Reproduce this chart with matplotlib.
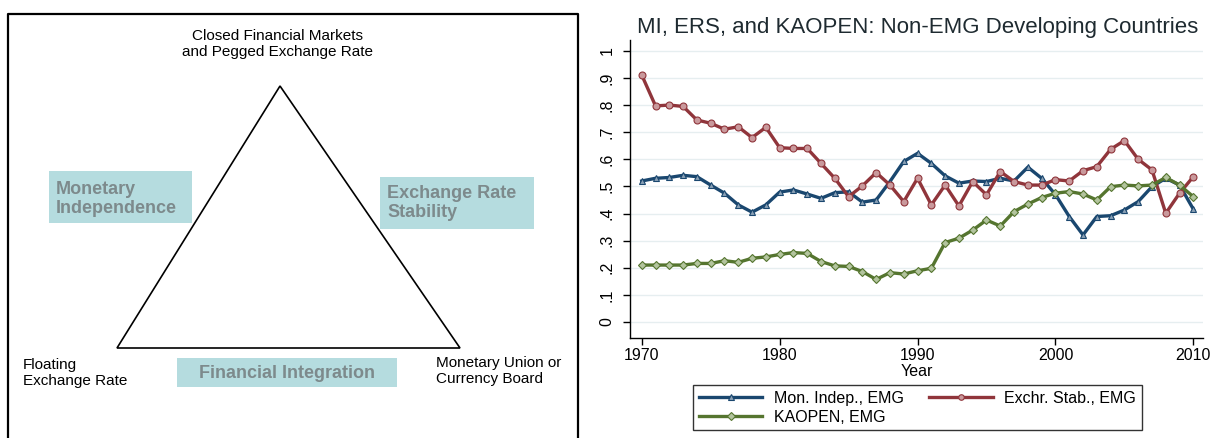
import numpy as np
import matplotlib
matplotlib.use("Agg")
import matplotlib.pyplot as plt
from matplotlib.patches import Rectangle, Polygon

plt.rcParams["font.family"] = ["Liberation Sans", "DejaVu Sans"]

# data
years = list(range(1970, 2011))
mon_indep = [0.52, 0.53, 0.533, 0.541, 0.536, 0.505, 0.475, 0.432, 0.405, 0.432,
             0.479, 0.487, 0.472, 0.456, 0.477, 0.48, 0.442, 0.45, 0.518, 0.592,
             0.622, 0.585, 0.539, 0.512, 0.52, 0.518, 0.53, 0.52, 0.571, 0.53,
             0.47, 0.389, 0.321, 0.389, 0.392, 0.413, 0.444, 0.499, 0.53, 0.505,
             0.416]
exch_stab = [0.911, 0.797, 0.80, 0.795, 0.745, 0.733, 0.711, 0.72, 0.68, 0.718,
             0.643, 0.64, 0.64, 0.585, 0.53, 0.462, 0.502, 0.551, 0.505, 0.444,
             0.53, 0.432, 0.505, 0.428, 0.518, 0.469, 0.555, 0.518, 0.505, 0.505,
             0.525, 0.52, 0.558, 0.573, 0.637, 0.669, 0.60, 0.561, 0.401, 0.475,
             0.536]
kaopen = [0.21, 0.21, 0.21, 0.21, 0.216, 0.216, 0.226, 0.22, 0.235, 0.24,
          0.249, 0.256, 0.253, 0.223, 0.207, 0.205, 0.186, 0.157, 0.182, 0.177,
          0.189, 0.198, 0.293, 0.309, 0.339, 0.376, 0.354, 0.407, 0.435, 0.459,
          0.475, 0.481, 0.472, 0.45, 0.499, 0.505, 0.502, 0.505, 0.533, 0.505,
          0.462]

yticks = np.arange(0, 1.01, 0.1)
ytick_labels = ["0", ".1", ".2", ".3", ".4", ".5", ".6", ".7", ".8", ".9", "1"]
xticks = [1970, 1980, 1990, 2000, 2010]

W, H = 1212, 438
fig = plt.figure(figsize=(W / 100, H / 100), dpi=100)

# ---- left panel: the trilemma triangle, drawn in pixel coordinates ----
axl = fig.add_axes([0, 0, 1, 1])
axl.set_xlim(0, W)
axl.set_ylim(H, 0)
axl.axis("off")

axl.plot([8, 8, 578, 578], [H + 5, 14, 14, H + 5], color="black", lw=1.6)
axl.add_patch(Polygon([[280, 86], [117, 348], [460, 348]], closed=True,
                      fill=False, edgecolor="black", lw=1.2))

box_col = "#b5dcdf"
txt_col = "#7d8a8c"
for x0, y0, w, h in [(49, 171, 143, 52), (380, 177, 154, 52), (177, 358, 220, 29)]:
    axl.add_patch(Rectangle((x0, y0), w, h, facecolor=box_col, edgecolor="none"))
axl.text(56, 199, "Monetary\nIndependence", fontsize=13, fontweight="bold",
         color=txt_col, va="center", ha="left", linespacing=1.15)
axl.text(387, 203, "Exchange Rate\nStability", fontsize=13, fontweight="bold",
         color=txt_col, va="center", ha="left", linespacing=1.15)
axl.text(287, 373, "Financial Integration", fontsize=13, fontweight="bold",
         color=txt_col, va="center", ha="center")
axl.text(278, 44, "Closed Financial Markets\nand Pegged Exchange Rate",
         fontsize=11, ha="center", va="center", linespacing=1.15)
axl.text(23, 373, "Floating\nExchange Rate", fontsize=11, ha="left",
         va="center", linespacing=1.15)
axl.text(436, 371, "Monetary Union or\nCurrency Board", fontsize=11,
         ha="left", va="center", linespacing=1.15)

# ---- right panel: Stata-style line chart ----
ax = fig.add_axes([630 / W, 1 - 338 / H, 573 / W, 298 / H])
blue, red, green = "#1a476f", "#90353b", "#55752f"
l1, = ax.plot(years, mon_indep, color=blue, lw=2.4, marker="^", ms=5,
              mfc="#8aa0b5", mec=blue, mew=0.8, label="Mon. Indep., EMG")
l2, = ax.plot(years, exch_stab, color=red, lw=2.4, marker="o", ms=5,
              mfc="#c9999c", mec=red, mew=0.8, label="Exchr. Stab., EMG")
l3, = ax.plot(years, kaopen, color=green, lw=2.4, marker="D", ms=4.5,
              mfc="#b3c49e", mec=green, mew=0.8, label="KAOPEN, EMG")

ax.set_xlim(1969.15, 2010.7)
ax.set_ylim(-0.059, 1.04)
ax.set_yticks(yticks)
ax.set_yticklabels(ytick_labels, rotation=90, va="center", fontsize=11.5)
ax.set_xticks(xticks)
ax.set_xticklabels([str(x) for x in xticks], fontsize=11.5)
ax.tick_params(axis="both", length=5, width=1, color="black", pad=2)
ax.tick_params(axis="y", pad=6)
ax.grid(axis="y", color="#e6eef0", lw=1)
ax.set_axisbelow(True)
for s in ["top", "right"]:
    ax.spines[s].set_visible(False)
ax.spines["left"].set_linewidth(1)
ax.spines["bottom"].set_linewidth(1)
ax.set_xlabel("Year", fontsize=11.5, labelpad=1)
fig.text(637 / W, 1 - 27 / H, "MI, ERS, and KAOPEN: Non-EMG Developing Countries",
         fontsize=16, color="#1e2a30", ha="left", va="center")

leg = ax.legend(handles=[l1, l3, l2], ncol=2, loc="upper left",
                bbox_to_anchor=(693 / W, 1 - 385 / H), bbox_transform=fig.transFigure,
                borderaxespad=0, fontsize=11.5, frameon=True, fancybox=False,
                edgecolor="black", handlelength=4.0, columnspacing=1.6,
                borderpad=0.35, labelspacing=0.25, handletextpad=0.7)
leg.get_frame().set_linewidth(1)
for h in leg.legend_handles:
    h.set_markersize(4)

fig.savefig("out.png", dpi=100)
